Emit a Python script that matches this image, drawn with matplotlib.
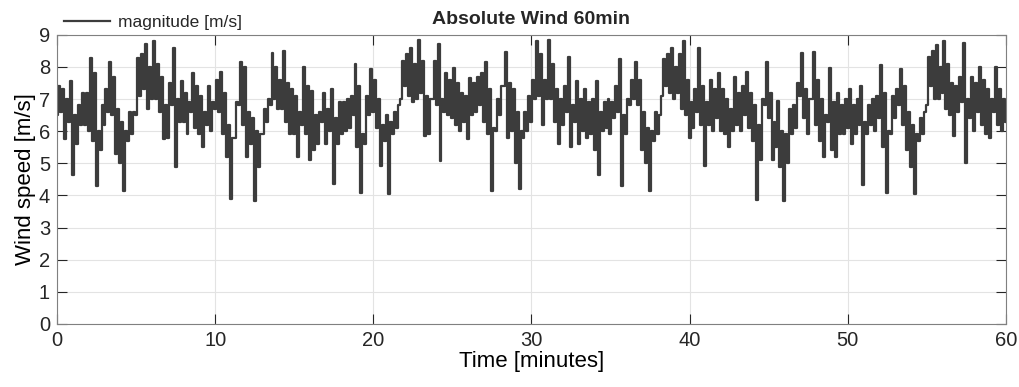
import numpy as np
import matplotlib.pyplot as plt

# Wind magnitude, one (low, high) pair every 0.25 min
minutes = np.arange(0, 60.001, 0.25)

low_00_15 = [6.5, 6.6, 5.75, 6.3, 4.65, 5.6, 6.2, 6.2, 6.0, 5.7, 4.3, 5.4,
             6.2, 6.6, 6.5, 5.3, 5.0, 4.13, 5.7, 5.9, 6.5, 7.1, 7.3, 6.7,
             7.0, 7.0, 6.6, 5.75, 5.8, 6.8, 4.9, 6.3, 6.3, 5.9, 6.6, 6.1,
             5.9, 5.5, 6.2, 6.0, 6.7, 6.6, 5.9, 5.2, 3.9, 5.8, 6.8, 6.2,
             5.2, 5.6, 3.82, 4.9, 5.9, 6.3, 6.8, 7.0, 6.7, 6.7, 6.3, 5.9]
high_00_15 = [7.4, 7.3, 7.0, 7.57, 6.5, 6.8, 7.2, 7.2, 8.27, 7.8, 6.0, 6.8,
              7.3, 8.15, 7.7, 6.7, 6.3, 6.0, 6.6, 6.6, 8.27, 8.4, 8.7, 8.0,
              8.8, 8.1, 7.7, 6.8, 7.5, 8.6, 7.0, 7.57, 7.2, 6.9, 7.8, 7.4,
              7.1, 6.6, 7.4, 6.9, 7.6, 7.85, 7.2, 6.2, 5.8, 6.9, 8.15, 8.0,
              6.6, 6.4, 6.0, 5.9, 6.7, 7.0, 8.44, 8.0, 7.6, 8.5, 7.5, 7.3]

low_15_30 = [5.9, 5.2, 6.2, 5.9, 5.1, 5.4, 5.6, 6.3, 5.6, 6.0, 4.37, 5.6,
             5.9, 6.0, 6.1, 6.5, 5.5, 4.08, 5.6, 6.5, 6.6, 6.1, 4.92, 5.7,
             4.03, 5.9, 6.1, 7.0, 7.4, 7.1, 6.9, 7.0, 7.2, 5.85, 5.9, 7.0,
             6.8, 5.07, 6.6, 6.5, 6.4, 6.2, 6.0, 6.3, 5.75, 6.5, 6.6, 6.8,
             6.3, 5.9, 4.13, 6.0, 6.5, 7.4, 5.8, 6.0, 5.0, 4.2, 5.8, 6.0]
high_15_30 = [7.1, 6.6, 8.0, 7.4, 7.26, 6.5, 6.6, 7.2, 6.7, 7.3, 6.4, 6.9,
              6.9, 7.0, 7.1, 8.1, 7.4, 5.9, 7.1, 7.94, 7.6, 7.0, 6.2, 6.5,
              6.3, 6.6, 6.8, 8.2, 8.4, 8.6, 8.1, 8.85, 8.2, 7.1, 7.0, 8.2,
              8.7, 7.0, 7.8, 7.6, 7.96, 7.5, 7.2, 7.1, 7.65, 7.5, 7.7, 7.8,
              8.15, 7.3, 6.1, 7.0, 7.4, 8.48, 7.5, 7.3, 6.6, 6.0, 6.6, 7.1]

low_30_45 = [6.3, 7.0, 7.1, 6.2, 7.0, 7.0, 6.3, 5.6, 6.2, 6.6, 5.5, 6.3,
             5.6, 6.0, 5.8, 5.9, 5.4, 4.65, 6.0, 6.1, 5.9, 6.4, 6.6, 4.3,
             5.9, 6.8, 7.0, 6.8, 5.4, 5.0, 4.13, 5.7, 5.9, 7.1, 7.4, 7.2,
             7.0, 7.2, 6.7, 6.5, 5.8, 6.1, 6.6, 6.2, 4.92, 6.2, 6.0, 6.4,
             6.0, 5.9, 5.5, 6.0, 6.2, 6.0, 6.5, 6.1, 5.7, 3.85, 5.1, 6.8]
high_30_45 = [7.6, 8.82, 8.4, 7.6, 8.85, 8.1, 7.3, 7.0, 7.4, 8.3, 6.8, 7.57,
              7.0, 7.3, 6.9, 7.0, 7.57, 6.6, 6.9, 7.0, 6.9, 7.4, 8.25, 6.5,
              7.0, 7.6, 8.15, 7.6, 6.6, 6.1, 6.0, 6.6, 6.5, 8.25, 8.4, 8.6,
              8.0, 8.4, 8.8, 7.6, 6.9, 7.3, 8.6, 7.4, 6.9, 7.6, 7.3, 7.8,
              7.3, 7.0, 6.7, 7.7, 7.2, 7.4, 7.83, 7.2, 6.8, 6.2, 7.0, 8.15]

low_45_60 = [6.4, 5.1, 5.5, 4.9, 3.82, 5.0, 5.9, 6.1, 7.1, 6.4, 5.9, 7.0,
             6.2, 5.7, 5.2, 6.3, 5.4, 5.2, 5.9, 5.9, 6.1, 5.6, 5.9, 6.2,
             4.34, 5.9, 6.2, 6.0, 6.4, 5.5, 4.08, 5.9, 6.4, 6.8, 6.2, 5.4,
             4.9, 4.03, 5.7, 5.9, 6.8, 7.4, 7.0, 7.0, 7.2, 6.7, 6.5, 5.85,
             6.6, 6.9, 5.0, 6.4, 6.0, 6.6, 6.2, 5.9, 5.8, 6.6, 6.2, 6.0, 6.3]
high_45_60 = [7.2, 6.3, 6.95, 6.0, 5.9, 6.7, 6.8, 7.5, 8.44, 7.3, 7.0, 8.48,
              7.6, 7.0, 6.5, 7.96, 6.9, 7.2, 6.8, 7.0, 7.3, 6.8, 7.0, 7.4,
              6.3, 6.8, 7.0, 7.1, 8.06, 7.2, 6.0, 7.1, 7.3, 7.94, 7.4, 6.6,
              6.2, 5.9, 6.4, 6.6, 8.3, 8.5, 8.67, 8.0, 8.82, 8.1, 7.5, 7.4,
              7.7, 8.75, 7.0, 7.7, 7.5, 8.0, 7.6, 7.3, 7.0, 8.0, 7.3, 7.0, 7.1]

low = np.array(low_00_15 + low_15_30 + low_30_45 + low_45_60)
high = np.array(high_00_15 + high_15_30 + high_30_45 + high_45_60)

# alternate low and high readings, half a step apart
t = np.empty(2 * len(minutes))
v = np.empty(2 * len(minutes))
t[0::2] = minutes
t[1::2] = minutes + 0.125
v[0::2] = low
v[1::2] = high
keep = t <= 60
t, v = t[keep], v[keep]

plt.rcParams['font.family'] = ['Liberation Sans', 'DejaVu Sans']
plt.rcParams['text.color'] = '#262626'

fig = plt.figure(figsize=(10.19, 3.87), dpi=100)
ax = fig.add_axes([0.056, 0.163, 0.931, 0.747])

# step drawing gives the vertical strokes of the sampled signal
ax.plot(t, v, color='#3c3c3c', lw=1.6, drawstyle='steps-mid',
        label='magnitude [m/s]')

ax.set_xlim(0, 60)
ax.set_ylim(0, 9)
ax.set_xticks(range(0, 61, 10))
ax.set_yticks(range(0, 10))
ax.grid(True, color='#e3e3e3', lw=0.8)
ax.set_axisbelow(True)
ax.tick_params(direction='in', length=7, width=0.8, colors='#262626',
               labelsize=14.5, top=True, right=True, pad=5)
for s in ax.spines.values():
    s.set_color('#808080')
    s.set_linewidth(0.8)

ax.set_xlabel('Time [minutes]', fontsize=16, labelpad=1)
ax.set_ylabel('Wind speed [m/s]', fontsize=16, labelpad=2)
ax.set_title('Absolute Wind 60min', fontsize=14, fontweight='bold', pad=8)
ax.legend(loc='lower left', bbox_to_anchor=(0.006, 1.012), frameon=False,
          fontsize=12.5, handlelength=2.6, handletextpad=0.5,
          borderaxespad=0, borderpad=0.1)

fig.savefig('out.png', dpi=100)
